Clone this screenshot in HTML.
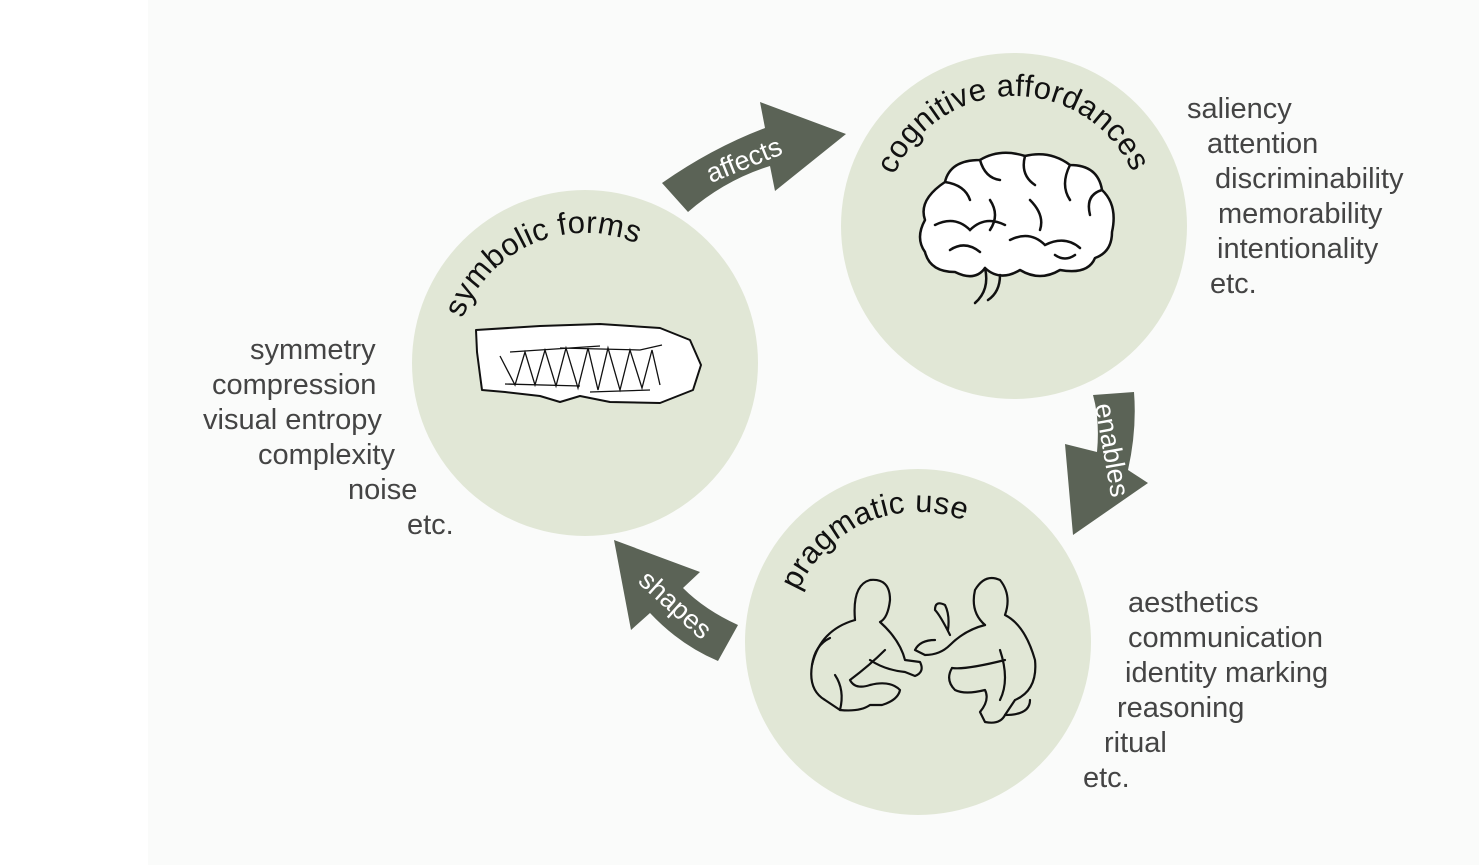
<!DOCTYPE html>
<html><head><meta charset="utf-8"><style>
html,body{margin:0;padding:0;background:#fff;}
svg{display:block;}
</style></head><body>
<svg width="1479" height="865" viewBox="0 0 1479 865" xmlns="http://www.w3.org/2000/svg" font-family="'Liberation Sans', Arial, sans-serif">
<rect x="148" y="0" width="1331" height="865" fill="#fafbfa"/>
<defs>
<path id="p1" d="M 462.8 318.5 A 130 130 0 0 1 710.6 329.4"/>
<path id="p2" d="M 894.3 175.2 A 130 130 0 0 1 1143.5 214.7"/>
<path id="p3" d="M 798.3 591.2 A 130 130 0 0 1 1030.6 577"/>
</defs>
<circle cx="585" cy="363" r="173" fill="#e1e7d6"/>
<circle cx="1014" cy="226" r="173" fill="#e1e7d6"/>
<circle cx="918" cy="642" r="173" fill="#e1e7d6"/>

<g fill="#5b6356">
<path d="M662,183 Q712,148 765,128 L760,102 L846,134 L775,191 L770,166 Q725,180 688,212 Z"/>
<path d="M1093,395 L1134,392 Q1137,430 1128,470 L1148,483 L1073,535 L1065,444 L1097,452 Q1100,420 1093,395 Z"/>
<path d="M614,540 L700,572 L683,588 Q705,610 738,625 L718,661 Q680,645 650,613 L631,630 Z"/>
</g>
<g fill="#fff" font-size="27">
<text x="744" y="169" text-anchor="middle" transform="rotate(-22 744 160)">affects</text>
<text x="1112" y="459" text-anchor="middle" transform="rotate(80 1112 450)">enables</text>
<text x="676" y="614" text-anchor="middle" transform="rotate(42 676 604)">shapes</text>
</g>

<g font-size="31" fill="#111" letter-spacing="0.4">
<text><textPath href="#p1">symbolic forms</textPath></text>
<text><textPath href="#p2">cognitive affordances</textPath></text>
<text><textPath href="#p3">pragmatic use</textPath></text>
</g>

<g font-size="29" fill="#444">
<text x="250" y="359">symmetry</text>
<text x="212" y="394">compression</text>
<text x="203" y="429">visual entropy</text>
<text x="258" y="464">complexity</text>
<text x="348" y="499">noise</text>
<text x="407" y="534">etc.</text>
<text x="1187" y="118">saliency</text>
<text x="1207" y="153">attention</text>
<text x="1215" y="188">discriminability</text>
<text x="1218" y="223">memorability</text>
<text x="1217" y="258">intentionality</text>
<text x="1210" y="293">etc.</text>
<text x="1128" y="612">aesthetics</text>
<text x="1128" y="647">communication</text>
<text x="1125" y="682">identity marking</text>
<text x="1117" y="717">reasoning</text>
<text x="1104" y="752">ritual</text>
<text x="1083" y="787">etc.</text>
</g>

<!-- tablet -->
<g fill="#fff" stroke="#111" stroke-width="2" stroke-linejoin="round">
<path d="M476,330 L540,326 L600,324 L660,328 L690,340 L701,365 L693,390 L660,403 L610,402 L580,396 L560,402 L540,396 L505,392 L482,390 L480,375 L477,352 Z"/>
</g>
<g fill="none" stroke="#111" stroke-width="1.3">
<path d="M500,356 L515,385 L525,352 L535,385 L545,350 L556,386 L566,348 L578,388 L588,348 L598,390 L608,348 L620,390 L630,350 L642,388 L652,350 L660,385"/>
<path d="M510,352 L600,346 M560,348 L640,350 L662,345 M505,384 L580,386 M590,392 L650,390"/>
</g>

<!-- brain -->
<g fill="#fff" stroke="#111" stroke-width="2.5" stroke-linecap="round" stroke-linejoin="round">
<path d="M945,182 Q950,160 980,160 Q1000,148 1025,156 Q1050,150 1070,165 Q1098,165 1102,190 Q1118,205 1112,232 Q1112,252 1095,258 Q1088,275 1060,270 Q1040,282 1020,270 Q1000,282 985,268 Q975,282 955,272 Q930,272 925,252 Q915,238 925,220 Q918,200 945,182 Z"/>
</g>
<g fill="none" stroke="#111" stroke-width="2.5" stroke-linecap="round">
<path d="M985,268 Q990,290 975,303 M1000,275 Q1000,292 988,300"/>
<path d="M945,182 Q965,185 970,200 M980,160 Q985,178 1000,180 M1025,156 Q1020,175 1035,185 M1070,165 Q1060,185 1070,200 M1102,190 Q1085,195 1090,215"/>
<path d="M935,225 Q955,215 970,230 Q985,215 1005,225 M1010,240 Q1030,230 1045,245 Q1065,235 1080,248"/>
<path d="M950,250 Q965,240 980,252 M1030,200 Q1045,215 1040,230 M990,200 Q1000,215 990,230 M1055,255 Q1065,262 1075,255"/>
</g>

<!-- people -->
<g fill="none" stroke="#111" stroke-width="2.2" stroke-linecap="round" stroke-linejoin="round">
<path d="M855,620 Q852,585 870,580 Q890,578 890,600 Q888,618 880,622 Q900,640 905,660 L920,662 Q925,672 915,676 L905,672 Q885,670 870,660"/>
<path d="M855,620 Q820,630 812,665 Q808,690 825,700 L840,710 Q860,712 870,705 L882,705 Q898,700 900,690 Q890,680 870,685 Q855,690 850,680 Q870,665 885,650"/>
<path d="M840,710 Q845,690 835,675 M812,665 Q815,645 830,638"/>
<path d="M985,625 Q970,612 975,590 Q985,573 1000,580 Q1012,595 1005,615 Q1025,625 1035,660 Q1038,690 1015,700 L1005,715 Q1000,725 985,722 L980,712 Q990,700 985,690 Q965,695 955,690 Q945,680 952,668"/>
<path d="M985,625 Q965,630 950,645 Q940,655 925,655 L915,650 Q920,640 935,640 M952,668 Q965,670 1005,660 M1000,650 Q1010,680 1000,700"/>
<path d="M950,635 Q940,615 935,610 Q935,600 945,605 Q950,615 948,630"/>
<path d="M1005,715 Q1030,715 1030,700"/>
</g>
</svg>
</body></html>
